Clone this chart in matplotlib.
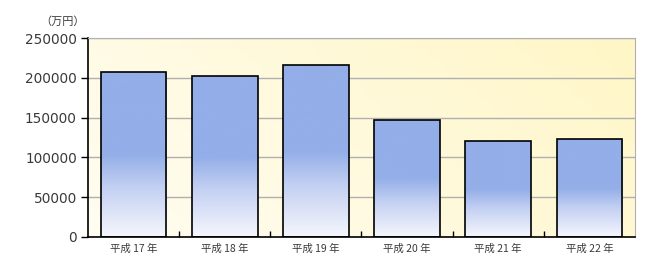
import numpy as np
import matplotlib.pyplot as plt
from matplotlib.colors import LinearSegmentedColormap

plt.rcParams['font.family'] = ['Noto Sans CJK JP', 'DejaVu Sans']

years = ["平成 17 年", "平成 18 年", "平成 19 年", "平成 20 年", "平成 21 年", "平成 22 年"]
amounts = [207000, 202000, 216000, 147000, 120500, 123000]
yticks = [0, 50000, 100000, 150000, 200000, 250000]

fig = plt.figure(figsize=(6.62, 2.70), dpi=100)
ax = fig.add_axes([88 / 662, 1 - 237 / 270, 547 / 662, 199 / 270])

n = len(years)
x = np.arange(n)
ax.set_xlim(-0.5, n - 0.5)
ax.set_ylim(0, 250000)

# background gradient (cream lower-left to yellow upper-right)
gx, gy = np.meshgrid(np.linspace(0, 1, 200), np.linspace(0, 1, 100))
g = np.clip(0.7 * gx + 0.3 * gy, 0, 1)
bg_cmap = LinearSegmentedColormap.from_list("bg", ["#fffdf2", "#fff6c6"])
ax.imshow(g, cmap=bg_cmap, extent=(-0.5, n - 0.5, 0, 250000), origin="lower",
          aspect="auto", zorder=0)

ax.yaxis.grid(True, color="#b0b0b0", linewidth=1)
ax.set_axisbelow(True)
for gl in ax.get_ygridlines():
    gl.set_zorder(1)

bars = ax.bar(x, amounts, width=0.72, facecolor="none", edgecolor="black",
              linewidth=1.2, zorder=3)

bar_cmap = LinearSegmentedColormap.from_list(
    "bar", [(0, "#f6f7fd"), (0.3, "#c3d0f2"), (0.5, "#93aee8"), (1, "#93aee8")])
grad = np.linspace(0, 1, 256).reshape(-1, 1)
for b in bars:
    x0, w, h = b.get_x(), b.get_width(), b.get_height()
    im = ax.imshow(grad, cmap=bar_cmap, extent=(x0, x0 + w, 0, h), origin="lower",
                   aspect="auto", zorder=2)
    im.set_clip_path(b)

ax.set_xlim(-0.5, n - 0.5)
ax.set_ylim(0, 250000)

ax.set_yticks(yticks)
ax.set_yticklabels([str(v) for v in yticks], fontsize=9.8, color="#3a3a3a",
                   family="DejaVu Sans")
ax.set_xticks(x)
ax.set_xticklabels(years, fontsize=7.5, color="#3a3a3a")
ax.tick_params(axis="x", length=0, pad=5)
ax.tick_params(axis="y", length=5, width=1, direction="out", pad=3)

# small boundary ticks between categories
ax.set_xticks(np.arange(n - 1) + 0.5, minor=True)
ax.tick_params(axis="x", which="minor", length=4, width=1, direction="in", color="black")

for s in ["top", "right"]:
    ax.spines[s].set_color("#b0b0b0")
for s in ["left", "bottom"]:
    ax.spines[s].set_color("black")
    ax.spines[s].set_linewidth(1.2)

fig.text(63 / 662, 1 - 22 / 270, "（万円）", fontsize=8, color="#3a3a3a",
         ha="center", va="center")

fig.savefig("out.png", dpi=100)
